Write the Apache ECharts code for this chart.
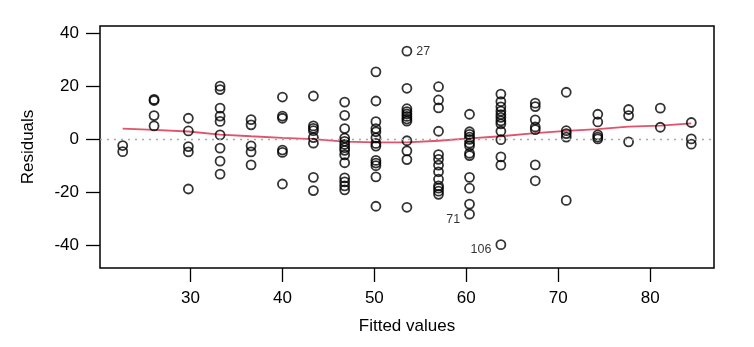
<!DOCTYPE html>
<html>
<head>
<meta charset="utf-8">
<script src="https://cdn.jsdelivr.net/npm/echarts@6/dist/echarts.min.js"></script>
<style>
html,body{margin:0;padding:0;background:#fff;}
#chart{width:754px;height:347px;}
</style>
</head>
<body>
<div id="chart"></div>
<script>
// Fitted value levels (x positions of the vertical point columns)
const fittedLevels = [22.63, 26.04, 29.77, 33.22, 36.59, 40.00, 43.37, 46.77, 50.17, 53.54,
  56.98, 60.35, 63.76, 67.50, 70.87, 74.30, 77.65, 81.10, 84.47];

// Residuals at each fitted level
const res01 = [-2.4, -4.7];
const res02 = [15.0, 14.6, 8.9, 5.0];
const res03 = [7.9, 3.1, -2.8, -4.8, -18.8];
const res04 = [20.0, 18.7, 11.7, 8.7, 6.7, 1.6, -3.4, -8.3, -13.2];
const res05 = [7.4, 5.4, -2.5, -4.8, -9.7];
const res06 = [15.9, 8.7, 7.9, -4.1, -5.0, -16.9];
const res07 = [16.3, 5.0, 4.1, 3.2, 0.6, -1.5, -14.4, -19.4];
const res08 = [14.0, 9.0, 4.0, 0.4, -0.8, -2.0, -3.2, -4.2, -5.9, -8.9, -14.6, -16.1, -17.6, -19.1];
const res09 = [25.4, 14.4, 6.6, 4.0, 2.8, 0.5, -1.6, -2.6, -8.0, -9.0, -10.0, -14.2, -25.3];
const res10 = [33.2, 19.2, 11.5, 10.4, 9.5, 8.6, 7.6, 6.8, -0.6, -4.4, -7.7, -25.7];
const res11 = [19.8, 14.8, 11.8, 3.0, -5.8, -7.6, -9.8, -12.3, -15.1, -17.6, -18.5, -19.6, -20.8];
const res12 = [9.4, 2.8, 1.8, 0.8, -0.1, -1.5, -2.5, -5.3, -6.2, -14.4, -18.5, -24.5, -28.3];
const res13 = [17.0, 14.2, 12.2, 10.6, 9.3, 8.2, 6.9, 5.8, 3.0, -0.2, -6.7, -9.8, -39.8];
const res14 = [13.6, 12.3, 7.3, 4.6, 3.6, -9.7, -15.7];
const res15 = [17.7, 3.2, 2.1, 0.8, -23.1];
const res16 = [9.4, 6.5, 1.6, 0.8, 0.1];
const res17 = [11.2, 8.9, -1.0];
const res18 = [11.7, 4.5];
const res19 = [6.3, 0.1, -1.9];
const residualGroups = [res01, res02, res03, res04, res05, res06, res07, res08, res09, res10,
  res11, res12, res13, res14, res15, res16, res17, res18, res19];

// Smoother (red line) value at each fitted level
const smoothValues = [4.0, 3.5, 2.9, 1.7, 1.1, 0.5, 0.0, -0.9, -1.2, -1.2,
  -0.6, 0.3, 1.1, 2.3, 3.1, 3.8, 4.7, 5.1, 6.0];

// Labelled observations: [group index, index within group, id]
const labelledPoints = [[9, 0, '27'], [11, 12, '71'], [12, 12, '106']];

const xTicks = [30, 40, 50, 60, 70, 80];
const yTicks = [-40, -20, 0, 20, 40];

const FONT = '"Liberation Sans", Arial, sans-serif';

const points = [];
residualGroups.forEach((grp, gi) => {
  grp.forEach((r, ri) => {
    const item = { value: [fittedLevels[gi], r] };
    const lab = labelledPoints.find(l => l[0] === gi && l[1] === ri);
    if (lab) {
      const right = fittedLevels[gi] < 55;
      item.label = {
        show: true,
        formatter: lab[2],
        position: right ? 'right' : 'left',
        distance: 4,
        offset: right ? [0, 0] : [0, 5],
        color: '#000',
        fontSize: 12.5,
        fontFamily: FONT
      };
    }
    points.push(item);
  });
});

const smoothData = fittedLevels.map((x, i) => [x, smoothValues[i]]);

const chart = echarts.init(document.getElementById('chart'), null, { renderer: 'canvas' });
chart.setOption({
  animation: false,
  backgroundColor: '#fff',
  grid: {
    left: 100, right: 40, top: 26, bottom: 79,
    show: true, borderColor: '#000', borderWidth: 1.5, backgroundColor: 'transparent'
  },
  xAxis: {
    type: 'value', min: 20.16, max: 86.94,
    name: 'Fitted values', nameLocation: 'middle', nameGap: 50,
    nameTextStyle: { fontFamily: FONT, fontSize: 17, color: '#000' },
    axisLine: { show: false, onZero: false },
    axisTick: { show: true, length: 14, customValues: xTicks, lineStyle: { color: '#000', width: 1.3 } },
    axisLabel: { customValues: xTicks, margin: 22, fontFamily: FONT, fontSize: 17, color: '#000' },
    splitLine: { show: false }
  },
  yAxis: {
    type: 'value', min: -48.6, max: 42.7,
    name: 'Residuals', nameLocation: 'middle', nameGap: 63, nameRotate: 90,
    nameTextStyle: { fontFamily: FONT, fontSize: 17, color: '#000' },
    axisLine: { show: false, onZero: false },
    axisTick: { show: true, length: 14, customValues: yTicks, lineStyle: { color: '#000', width: 1.3 } },
    axisLabel: { customValues: yTicks, margin: 21, fontFamily: FONT, fontSize: 17, color: '#000' },
    splitLine: { show: false }
  },
  series: [
    {
      type: 'scatter',
      data: points,
      symbol: 'circle',
      symbolSize: 9,
      itemStyle: { color: 'rgba(0,0,0,0)', borderColor: '#000', borderWidth: 1.8 },
      markLine: {
        silent: true,
        symbol: ['none', 'none'],
        label: { show: false },
        lineStyle: { color: '#a8a8a8', type: [2, 5], width: 1.4 },
        data: [{ yAxis: 0 }]
      },
      z: 3
    },
    {
      type: 'line',
      data: smoothData,
      showSymbol: false,
      symbol: 'none',
      lineStyle: { color: '#DF536B', width: 1.8 },
      z: 2
    }
  ]
});
</script>
</body>
</html>
